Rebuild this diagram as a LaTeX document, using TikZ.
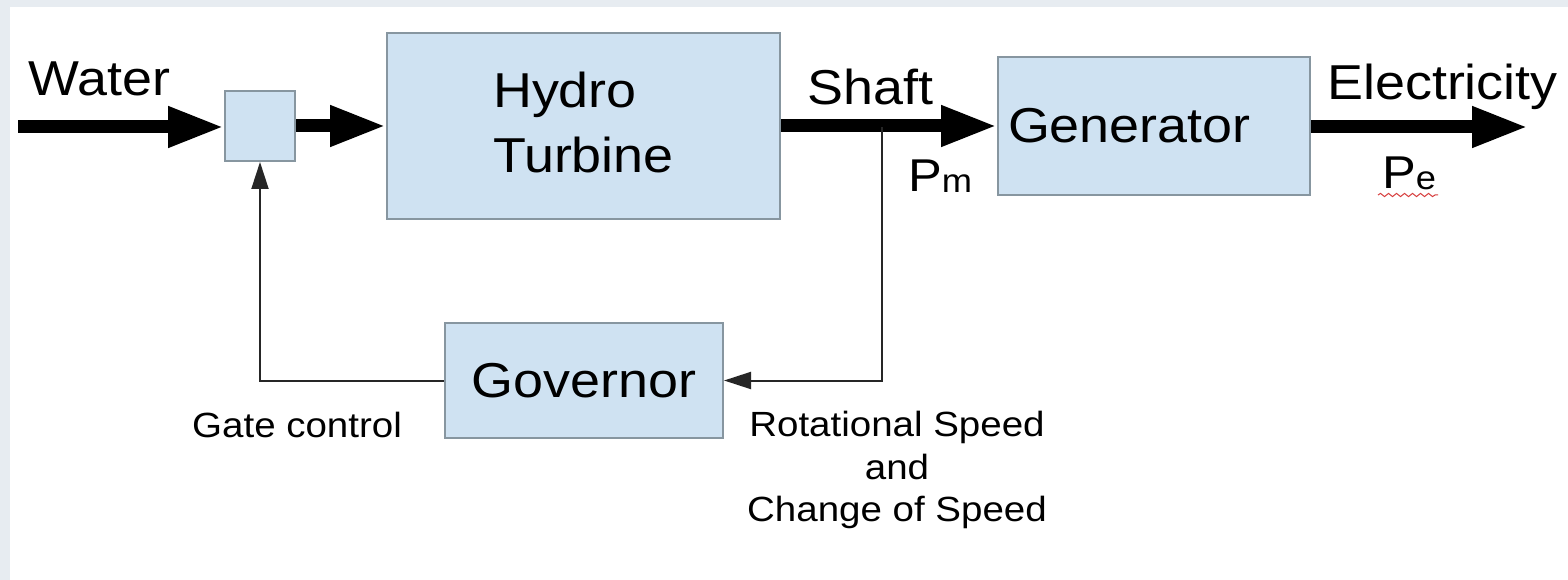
\documentclass[tikz,border=0pt]{standalone}
\usepackage{fontspec}
\setmainfont{Liberation Sans}[FakeStretch=1.1]
\usetikzlibrary{arrows.meta,decorations.pathmorphing}
\definecolor{boxfill}{RGB}{207,226,242}
\definecolor{boxline}{RGB}{135,150,160}
\definecolor{strip}{RGB}{231,236,241}
\definecolor{squig}{RGB}{215,60,60}
\tikzset{
  box/.style={draw=boxline, fill=boxfill, line width=2pt, inner sep=0pt},
  bigarrow/.style={line width=13pt, -{Triangle[length=56pt,width=38pt]}},
  thinarrow/.style={line width=2pt, draw=black!85, -{Triangle[length=27pt,width=17pt]}},
  thinline/.style={line width=2pt, draw=black!85},
  bigfont/.style={font=\fontsize{49}{65}\selectfont},
  smallfont/.style={font=\fontsize{35}{42.5}\selectfont},
  lbl/.style={inner sep=0pt, anchor=base west},
}
\begin{document}
\begin{tikzpicture}[x=1pt,y=-1pt]
\useasboundingbox (0,0) rectangle (1568,580);
\fill[strip] (0,0) rectangle (1568,580);
\fill[white] (10,7) rectangle (1568,580);

% blocks
\node[box, minimum width=70pt, minimum height=70pt] (gate) at (260,126) {};
\node[box, bigfont, align=left, minimum width=393pt, minimum height=186pt, text depth=8pt] (turb) at (583.5,126) {Hydro\\Turbine};
\node[box, bigfont, align=left, text width=292pt, inner xsep=10pt, minimum height=138pt] (gen) at (1154,126) {Generator};
\node[box, bigfont, minimum width=278pt, minimum height=115pt] (gov) at (584,380.5) {Governor};

% free ends
\coordinate (win) at (18,127);
\coordinate (eout) at (1528,127);
\coordinate (tap) at (882,127);

% main flow
\draw[bigarrow] (win) -- (gate.west |- win);
\draw[bigarrow] (gate.east) -- (turb.west);
\draw[bigarrow] (turb.east) -- (gen.west);
\draw[bigarrow] (gen.east |- eout) -- (eout);

% feedback
\draw[thinarrow] (tap) |- (gov.east);
\draw[thinarrow] (gov.west) -| (gate.south);

% labels
\node[lbl, bigfont] (lwater) at (28,96) {Water};
\node[lbl, bigfont] (lshaft) at (807,105) {Shaft};
\node[lbl, bigfont] (lelec) at (1327,100) {Electricity};
\node[lbl, font=\fontsize{46}{50}\selectfont] (lpm) at (908,192) {P\raisebox{-1pt}{\fontsize{33}{35}\selectfont m}};
\node[lbl, font=\fontsize{46}{50}\selectfont] (lpe) at (1382,189) {P\raisebox{-1pt}{\fontsize{33}{35}\selectfont e}};
\draw[squig, line width=1pt, decorate, decoration={snake, amplitude=1.6pt, segment length=8pt}] (1378,195) -- (1438,195);
\node[lbl, smallfont] (lgate) at (192,437) {Gate control};
\node[smallfont, inner sep=0pt, align=center, anchor=north] (lspeed) at (897,411) {Rotational Speed\\and\\Change of Speed};
\end{tikzpicture}
\end{document}
